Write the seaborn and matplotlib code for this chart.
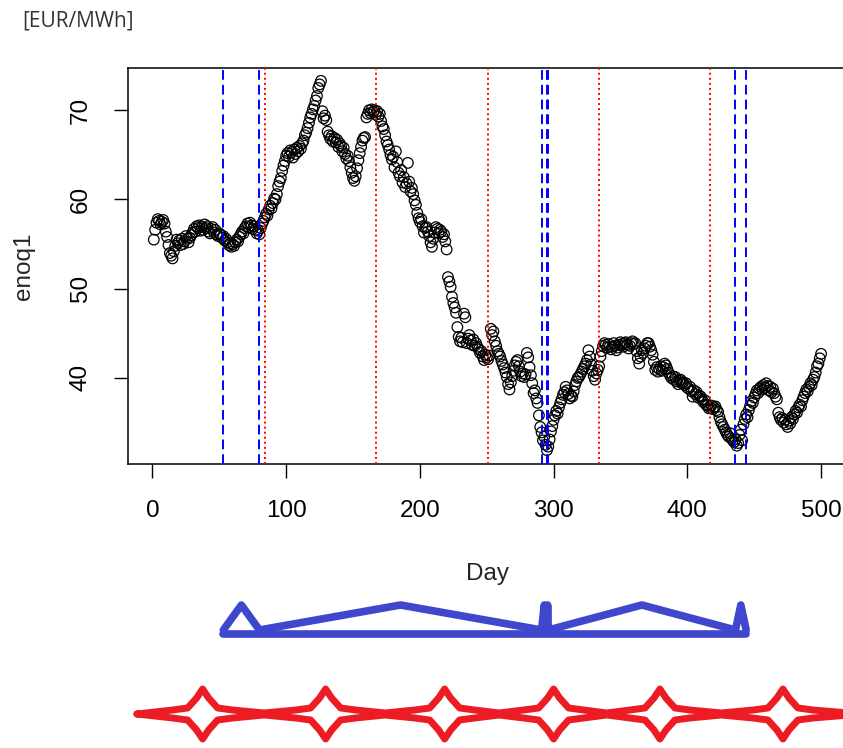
import pandas as pd
import seaborn as sns
import matplotlib.pyplot as plt

# --- DATA ---

day = list(range(1, 501))
enoq1 = [
    55.5, 56.6, 57.4, 57.8, 57.6, 57.2, 57.5, 57.7, 57.3, 56.4,
    55.8, 54.9, 54.0, 53.7, 53.4, 54.2, 54.8, 55.5, 55.1, 55.4,
    54.9, 55.6, 55.0, 55.3, 55.9, 55.6, 55.2, 55.7, 56.0, 56.3,
    56.7, 56.4, 57.0, 56.8, 57.1, 56.5, 56.9, 56.6, 57.2, 56.8,
    57.0, 56.4, 56.2, 56.7, 56.9, 56.3, 56.6, 56.1, 55.9, 56.2,
    56.0, 55.7, 55.9, 55.4, 55.6, 55.2, 54.9, 55.1, 54.7, 55.0,
    54.8, 55.2, 55.5, 55.3, 55.8, 56.1, 56.4, 56.2, 56.8, 57.0,
    57.3, 56.9, 57.4, 57.1, 56.7, 57.0, 56.6, 56.2, 56.5, 56.1,
    56.8, 57.3, 57.6, 58.0, 58.4, 58.2, 58.9, 59.3, 59.0, 59.6,
    60.1, 60.0, 60.6, 61.5, 62.0, 62.4, 63.2, 63.8, 64.3, 64.9,
    65.2, 64.8, 65.5, 65.3, 64.7, 65.6, 65.1, 65.8, 65.4, 66.0,
    65.7, 66.3, 66.6, 67.2, 67.5, 68.0, 68.6, 69.2, 69.6, 70.1,
    70.5, 71.1, 71.6, 72.5, 72.9, 73.3, 69.9, 69.1, 69.4, 68.9,
    67.6, 67.2, 66.8, 67.1, 66.5, 66.9, 66.4, 66.7, 65.9, 66.3,
    66.0, 65.4, 65.8, 65.1, 64.6, 64.9, 64.3, 63.6, 63.0, 62.4,
    62.1, 62.6, 63.5, 64.4, 65.2, 65.9, 66.6, 66.9, 67.0, 69.2,
    69.6, 70.0, 69.7, 70.1, 69.8, 70.0, 69.5, 69.9, 69.3, 69.6,
    68.8, 68.2, 67.9, 67.2, 66.5, 66.1, 65.6, 65.0, 64.5, 64.8,
    63.6, 65.4, 64.2, 63.0, 62.6, 63.3, 61.9, 62.5, 61.4, 61.8,
    64.1, 62.0, 60.9, 61.3, 60.6, 59.9, 59.4, 58.5, 57.9, 57.5,
    57.8, 57.0, 56.3, 56.8, 56.9, 56.4, 55.9, 55.2, 54.7, 55.6,
    56.3, 56.9, 56.7, 56.2, 56.6, 56.4, 55.8, 56.1, 55.3, 54.4,
    51.3, 50.8, 50.2, 49.1, 48.4, 47.9, 47.3, 45.7, 44.6, 44.1,
    44.5, 44.0, 47.2, 46.8, 43.9, 44.4, 44.8, 44.2, 43.7, 44.3,
    43.6, 43.9, 43.5, 43.2, 42.8, 43.0, 42.4, 42.0, 42.6, 42.3,
    42.1, 42.5, 45.5, 44.8, 45.2, 44.1, 43.6, 43.0, 42.7, 42.4,
    41.9, 41.5, 41.1, 40.6, 40.1, 39.3, 38.7, 39.5, 40.2, 40.8,
    41.4, 41.8, 42.0, 41.3, 40.7, 40.2, 40.5, 40.1, 40.4, 42.8,
    42.3, 41.2, 40.3, 39.4, 38.3, 38.6, 37.7, 37.2, 35.8, 34.5,
    33.9, 33.0, 33.4, 32.5, 31.9, 32.3, 33.1, 34.0, 34.6, 35.3,
    35.8, 36.3, 36.0, 36.7, 37.2, 37.6, 38.1, 38.4, 39.0, 38.6,
    38.2, 37.7, 38.0, 37.9, 38.5, 39.2, 39.6, 40.0, 40.1, 40.4,
    40.7, 41.0, 41.3, 41.6, 42.0, 43.1, 42.4, 41.5, 40.8, 40.2,
    39.8, 40.5, 40.9, 41.3, 42.4, 43.0, 43.6, 43.9, 43.7, 43.4,
    43.8, 43.5, 43.2, 43.5, 43.9, 43.6, 43.1, 43.4, 43.7, 44.0,
    43.8, 43.5, 43.9, 44.0, 43.7, 43.3, 43.6, 43.9, 44.1, 43.8,
    43.9, 43.0, 42.2, 41.6, 42.4, 43.1, 42.8, 43.3, 43.6, 43.9,
    43.9, 43.5, 43.1, 42.6, 41.8, 40.9, 41.2, 40.7, 41.0, 41.3,
    40.8, 41.2, 41.6, 41.4, 41.0, 40.6, 40.3, 40.0, 40.2, 39.8,
    40.1, 39.6, 39.3, 39.7, 39.8, 39.4, 39.5, 39.2, 39.4, 38.9,
    38.8, 39.0, 38.5, 37.9, 38.6, 38.2, 38.4, 37.8, 38.0, 37.9,
    37.6, 37.3, 37.5, 37.0, 36.9, 36.6, 36.7, 36.9, 36.5, 36.7,
    36.8, 36.4, 36.2, 35.6, 35.1, 34.8, 34.5, 34.2, 33.9, 33.6,
    33.4, 33.8, 33.2, 33.0, 32.8, 33.1, 32.4, 32.7, 33.6, 34.2,
    33.0, 34.8, 35.4, 35.9, 35.6, 36.4, 36.9, 37.4, 37.2, 37.8,
    38.2, 38.6, 38.3, 38.8, 39.0, 38.7, 39.2, 38.9, 39.4, 39.1,
    38.6, 39.0, 38.4, 38.8, 38.3, 37.9, 37.6, 36.1, 35.6, 35.3,
    35.5, 35.0, 35.3, 34.8, 34.5, 35.2, 34.9, 35.6, 35.4, 35.9,
    36.3, 36.1, 36.7, 37.0, 36.8, 37.5, 37.9, 38.3, 38.7, 38.5,
    39.0, 39.4, 39.2, 39.8, 40.1, 40.6, 41.3, 41.6, 42.2, 42.7,
]

blue_breaks = [53, 80, 291, 295, 296, 436, 444]      # dashed blue lines
red_breaks = [84, 167, 251, 334, 417]                # dotted red lines
red_marks = [37.5, 129.5, 218.5, 300, 379.5, 471.5]  # centres of the red hand-drawn stars

x_ticks = [0, 100, 200, 300, 400, 500]
y_ticks = [40, 50, 60, 70]

df = pd.DataFrame({'Day': day, 'enoq1': enoq1})

# --- STYLE ---
sns.set_style('ticks')
plt.rcParams['font.family'] = ['Liberation Sans', 'DejaVu Sans']

W, H = 843, 748
fig = plt.figure(figsize=(W / 100, H / 100), dpi=100)

# plot box in pixels: left 128, right 847 (cut off by the image), top 68, bottom 464
ax = fig.add_axes([128 / W, 1 - 464 / H, 719 / W, 396 / H])

sns.scatterplot(data=df, x='Day', y='enoq1', ax=ax, marker='o', s=58,
                facecolors='none', edgecolor='black', linewidth=0.9,
                legend=False, zorder=3)

for b in blue_breaks:
    ax.axvline(b, color='#0000FF', linewidth=1.4, linestyle=(0, (5, 2.6)), zorder=4)
for b in red_breaks:
    ax.axvline(b, color='#FF0000', linewidth=1.4, linestyle=(0, (1, 1.6)), zorder=4)

ax.set_xlim(-18.3, 519.4)
ax.set_ylim(30.35, 74.74)
ax.set_xticks(x_ticks)
ax.set_yticks(y_ticks)
ax.tick_params(length=10, width=1, pad=16, labelsize=17.5, colors='black')
plt.setp(ax.get_yticklabels(), rotation=90, va='center')
for side in ['left', 'right', 'top', 'bottom']:
    ax.spines[side].set_visible(True)
    ax.spines[side].set_linewidth(1.1)
    ax.spines[side].set_color('black')

ax.set_xlabel('Day', fontsize=17.5)
ax.xaxis.set_label_coords(0.5, (464 - 574) / 396)
ax.xaxis.label.set_va('center')
ax.set_ylabel('enoq1', fontsize=17.5)
ax.yaxis.set_label_coords((24 - 128) / 719, 0.5)
ax.yaxis.label.set_va('center')

fig.text(22 / W, 1 - 21 / H, '[EUR/MWh]', ha='left', va='center', fontsize=15,
         color='#333333', family=['Open Sans', 'DejaVu Sans'])

# --- hand-drawn marks under the chart (same day scale, y in pixels from top) ---
xl = ax.get_xlim()
px_per_day = 719 / (xl[1] - xl[0])
ax_d = fig.add_axes([0, 0, 1, 1], zorder=5)
ax_d.set_xlim(xl[0] - 128 / px_per_day, xl[0] + (W - 128) / px_per_day)
ax_d.set_ylim(H, 0)
ax_d.axis('off')

# blue: a triangle between each pair of neighbouring blue breaks, plus a base line
base_y, top_y, floor_y = 630, 605, 634
tri_x, tri_y = [blue_breaks[0]], [base_y]
for a, b in zip(blue_breaks[:-1], blue_breaks[1:]):
    tri_x += [(a + b) / 2, b]
    tri_y += [top_y, base_y]
ax_d.plot([blue_breaks[0], blue_breaks[-1]], [floor_y, floor_y], color='#3F48CC',
          linewidth=5.5, solid_capstyle='round')
ax_d.plot(tri_x, tri_y, color='#3F48CC', linewidth=5.5,
          solid_joinstyle='round', solid_capstyle='round')

# red: a band with a four-point star at each mark
mid_y = 714
star = [(-30, 4), (-15, 6), (-6, 16), (0, 25), (6, 16), (15, 6), (30, 4)]
start_x, end_x = (137 - 152.5) / px_per_day, 530
up_x, up_y = [start_x], [mid_y]
for i, c in enumerate(red_marks):
    for dx, dy in star:
        up_x.append(c + dx / px_per_day)
        up_y.append(mid_y - dy)
    if i < len(red_marks) - 1:
        up_x.append((c + red_marks[i + 1]) / 2)
        up_y.append(mid_y - 1)
up_x.append(end_x)
up_y.append(mid_y)
lo_y = [2 * mid_y - v for v in up_y]
ax_d.plot(up_x + up_x[::-1], up_y + lo_y[::-1], color='#ED1C24', linewidth=5,
          solid_joinstyle='round', solid_capstyle='round')

fig.savefig('out.png', dpi=100)
